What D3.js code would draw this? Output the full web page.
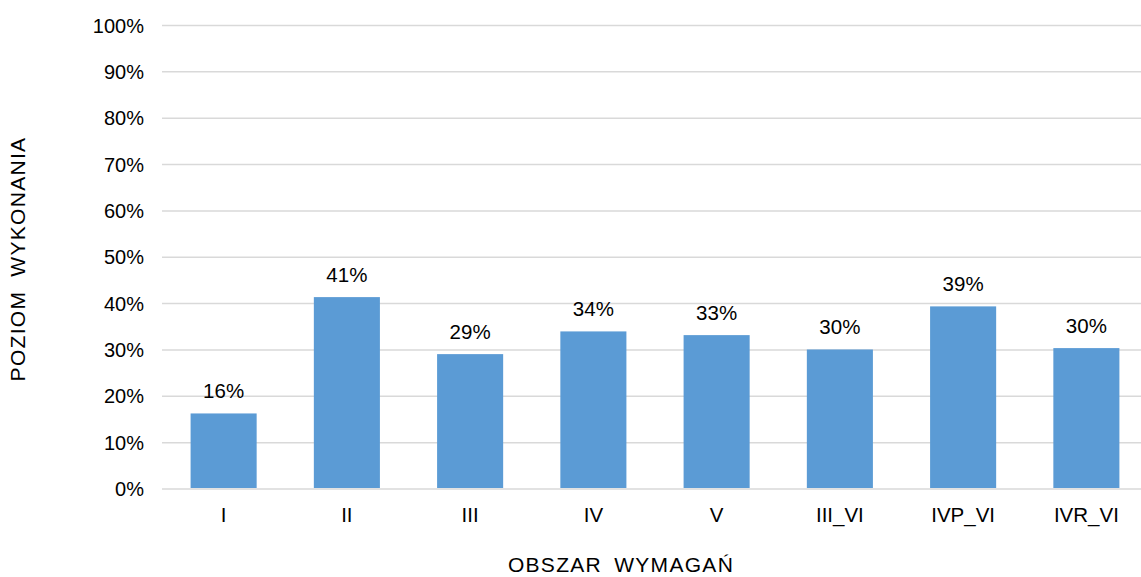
<!DOCTYPE html>
<html>
<head>
<meta charset="utf-8">
<script src="https://cdn.jsdelivr.net/npm/d3@7"></script>
<style>
  body { margin: 0; background: #fff; }
  svg { display: block; font-family: "Liberation Sans", Arial, sans-serif; }
</style>
</head>
<body>
<div id="chart"></div>
<script>
// dane
const categories = ["I", "II", "III", "IV", "V", "III_VI", "IVP_VI", "IVR_VI"];
const values = [16.3, 41.4, 29.1, 34.0, 33.2, 30.1, 39.4, 30.4];
const yTicks = [0, 10, 20, 30, 40, 50, 60, 70, 80, 90, 100];

document.addEventListener('DOMContentLoaded', () => {
    const width = 1141, height = 577;
    const margin = { left: 162, right: -7, top: 25.5, bottom: 88 };

    const svg = d3.select('#chart').append('svg')
        .attr('width', width)
        .attr('height', height);

    const x = d3.scaleBand()
        .domain(categories)
        .range([margin.left, width - margin.right])
        .paddingInner(0.464)
        .paddingOuter(0.232);

    const y = d3.scaleLinear()
        .domain([0, 100])
        .range([height - margin.bottom, margin.top]);

    // linie siatki
    svg.append('g')
        .selectAll('line')
        .data(yTicks)
        .enter()
        .append('line')
        .attr('x1', margin.left)
        .attr('x2', width - margin.right)
        .attr('y1', d => y(d))
        .attr('y2', d => y(d))
        .attr('stroke', '#d9d9d9')
        .attr('stroke-width', 1.5);

    // etykiety osi Y
    svg.append('g')
        .selectAll('text')
        .data(yTicks)
        .enter()
        .append('text')
        .attr('x', 144)
        .attr('y', d => y(d) + 7)
        .attr('text-anchor', 'end')
        .attr('font-size', 20)
        .attr('fill', '#000')
        .text(d => d + '%');

    // słupki
    svg.append('g')
        .selectAll('rect')
        .data(values)
        .enter()
        .append('rect')
        .attr('x', (d, i) => x(categories[i]))
        .attr('width', x.bandwidth())
        .attr('y', d => y(d))
        .attr('height', d => y(0) - y(d) - 1)
        .attr('fill', '#5b9bd5');

    // etykiety danych
    svg.append('g')
        .selectAll('text')
        .data(values)
        .enter()
        .append('text')
        .attr('x', (d, i) => x(categories[i]) + x.bandwidth() / 2)
        .attr('y', d => y(d) - 15)
        .attr('text-anchor', 'middle')
        .attr('font-size', 20.5)
        .attr('fill', '#000')
        .text(d => Math.round(d) + '%');

    // etykiety kategorii
    svg.append('g')
        .selectAll('text')
        .data(categories)
        .enter()
        .append('text')
        .attr('x', d => x(d) + x.bandwidth() / 2)
        .attr('y', 522)
        .attr('text-anchor', 'middle')
        .attr('font-size', 20.5)
        .attr('fill', '#000')
        .text(d => d);

    // tytuły osi
    svg.append('text')
        .attr('x', 621)
        .attr('y', 572)
        .attr('text-anchor', 'middle')
        .attr('font-size', 21)
        .attr('letter-spacing', 1.3)
        .attr('word-spacing', 5)
        .attr('fill', '#000')
        .text('OBSZAR WYMAGAŃ');

    svg.append('text')
        .attr('transform', 'translate(25, 259) rotate(-90)')
        .attr('text-anchor', 'middle')
        .attr('font-size', 21)
        .attr('letter-spacing', 1.3)
        .attr('word-spacing', 7)
        .attr('fill', '#000')
        .text('POZIOM WYKONANIA');
});
</script>
</body>
</html>
